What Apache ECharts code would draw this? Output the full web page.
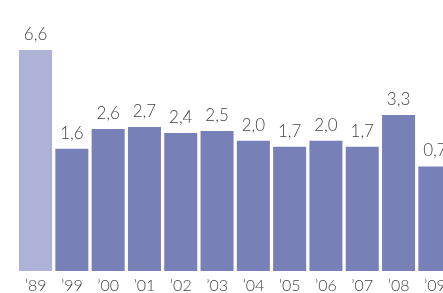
<!DOCTYPE html>
<html><head><meta charset="utf-8">
<script src="https://cdn.jsdelivr.net/npm/echarts@6/dist/echarts.min.js"></script>
<style>html,body{margin:0;padding:0;background:#fff}#c{width:443px;height:293px}</style>
</head><body><div id="c"></div>
<script>
const categories = ["’89","’99","’00","’01","’02","’03","’04","’05","’06","’07","’08","’09"];
const values = [6.6,1.6,2.6,2.7,2.4,2.5,2.0,1.7,2.0,1.7,3.3,0.7];
const highlightIndex = 0;
const chart = echarts.init(document.getElementById('c'), null, {renderer:'canvas'});
chart.setOption({
  animation:false,
  grid:{left:17.4, width:435.6, top:50, height:221, containLabel:false, outerBoundsMode:'none'},
  xAxis:{type:'category', data:categories,
    axisLine:{show:false}, axisTick:{show:false},
    axisLabel:{interval:0, margin:7, color:'#444', fontSize:16, fontFamily:'Lato', fontWeight:300}},
  yAxis:{type:'value', min:-4.6, max:6.6, startValue:-4.6, show:false, splitLine:{show:false}},
  series:[{type:'bar', barCategoryGap:'9%',
    data: values.map((v,i)=>({value:v, itemStyle:{color: i===highlightIndex ? '#afb2d7' : '#7880b8'}})),
    label:{show:true, position:'top', distance:7, color:'#444', fontSize:17, fontFamily:'Lato', fontWeight:300,
      formatter:p=>p.value.toFixed(1).replace('.',',')}
  }]
});
</script></body></html>
